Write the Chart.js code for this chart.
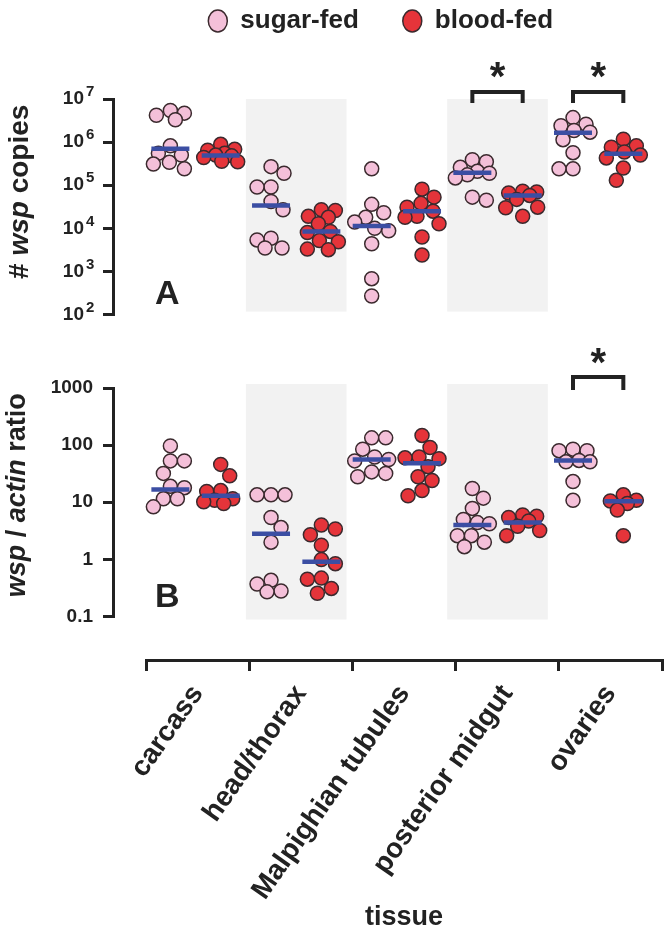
<!DOCTYPE html>
<html><head><meta charset="utf-8">
<script src="https://cdn.jsdelivr.net/npm/chart.js@4/dist/chart.umd.min.js"></script>
<style>
html,body{margin:0;padding:0;background:#fff;width:672px;height:942px;overflow:hidden;position:relative}
canvas{position:absolute;left:0}
</style></head><body>
<canvas id="ca" width="672" height="345" style="top:0px"></canvas>
<canvas id="cb" width="672" height="300" style="top:340px"></canvas>
<canvas id="cx" width="672" height="312" style="top:630px"></canvas>
<script>
// ---------------- data ----------------
const categories = ['carcass', 'head/thorax', 'Malpighian tubules', 'posterior midgut', 'ovaries'];
const seriesNames = ['sugar-fed', 'blood-fed'];

// panel A: # wsp copies
const copiesSugar = [
  [5.4e6, 4.7e6, 4.2e6, 3.3e6, 8.2e5, 5.5e5, 5.0e5, 3.4e5, 3.1e5, 2.4e5],
  [2.7e5, 1.9e5, 9.1e4, 9.1e4, 4.2e4, 2.7e4, 5.9e3, 5.4e3, 3.5e3, 3.5e3],
  [2.4e5, 3.6e4, 2.3e4, 1.8e4, 1.4e4, 1.0e4, 8.8e3, 4.4e3, 6.8e2, 2.7e2],
  [3.9e5, 3.5e5, 2.6e5, 2.1e5, 1.9e5, 1.74e5, 1.48e5, 5.3e4, 4.5e4],
  [3.7e6, 2.6e6, 2.4e6, 1.86e6, 1.7e6, 1.14e6, 5.7e5, 2.4e5, 2.4e5]
];
const copiesBlood = [
  [8.9e5, 6.8e5, 6.5e5, 5.5e5, 5.0e5, 4.8e5, 4.4e5, 3.6e5, 3.5e5],
  [2.7e4, 2.6e4, 1.9e4, 1.8e4, 1.28e4, 8.5e3, 8.0e3, 5.2e3, 4.9e3, 3.3e3, 3.2e3],
  [8.1e4, 5.3e4, 3.8e4, 3.1e4, 2.5e4, 1.9e4, 1.8e4, 1.28e4, 6.3e3, 2.4e3],
  [7.3e4, 7.0e4, 6.6e4, 5.8e4, 4.7e4, 3.1e4, 3.0e4, 1.9e4],
  [1.17e6, 8.2e5, 7.6e5, 5.9e5, 5.0e5, 4.3e5, 2.5e5, 1.3e5]
];
const copiesMedianSugar = [7.0e5, 3.4e4, 1.14e4, 1.96e5, 1.66e6];
const copiesMedianBlood = [4.9e5, 8.5e3, 2.5e4, 5.8e4, 5.4e5];
const copiesTicks = [1e2, 1e3, 1e4, 1e5, 1e6, 1e7];
const copiesTickBase = ['10', '10', '10', '10', '10', '10'];
const copiesTickExp = ['2', '3', '4', '5', '6', '7'];
const copiesSignificant = [false, false, false, true, true];

// panel B: wsp / actin ratio
const ratioSugar = [
  [97, 53, 53, 32, 19, 18, 11.5, 11.5, 8.3],
  [13.5, 13.5, 13.5, 5.4, 3.6, 2.0, 0.43, 0.37, 0.28, 0.27],
  [134, 134, 85, 62, 56, 53, 34, 32, 28],
  [17.4, 11.8, 7.8, 5.0, 4.4, 4.2, 2.6, 2.6, 2.0, 1.67],
  [85, 80, 80, 54, 51, 51, 23, 10.8]
];
const ratioBlood = [
  [46, 29, 16, 15.4, 11.5, 10.8, 10.2, 9.5],
  [4.0, 3.4, 2.7, 1.77, 0.99, 0.84, 0.47, 0.45, 0.31, 0.255],
  [148, 91, 62, 60, 58, 42, 28, 24, 16, 13],
  [6.0, 5.7, 5.4, 4.7, 3.8, 3.2, 2.6],
  [13.5, 10.8, 10.5, 9.5, 7.3, 2.6]
];
const ratioMedianSugar = [16.7, 2.8, 56, 4.0, 54];
const ratioMedianBlood = [13, 0.91, 48, 4.4, 10.4];
const ratioTicks = [0.1, 1, 10, 100, 1000];
const ratioTickBase = ['0.1', '1', '10', '100', '1000'];
const ratioTickExp = ['', '', '', '', ''];
const ratioSignificant = [false, false, false, false, true];

const shadedGroups = [false, true, false, true, false];
const copiesTitle = [['# ', false], ['wsp', true], [' copies', false]];
const ratioTitle = [['wsp', true], [' / ', false], ['actin', true], [' ratio', false]];
const xTitle = 'tissue';

// ---------------- styles ----------------
const FONT = "'Liberation Sans', Arial, Helvetica, sans-serif";
const INK = '#222222';
const PINK = '#f4c0d9';
const RED = '#e5343a';
const EDGE = '#3b2a2e';
const BLUE = '#3b4ea3';
const BAND = '#f2f2f2';
const X_MIN = -0.82, X_MAX = 4.5, SIDE = 0.25;

function groupPoints(groups, side) {
  const out = [];
  groups.forEach((vals, gi) => vals.forEach(v => out.push({ x: gi + side, y: v, g: gi })));
  return out;
}
function medianPoints(vals, side) { return vals.map((v, i) => ({ x: i + side, y: v })); }

const decor = {
  id: 'decor',
  beforeDatasetsDraw(chart, args, o) {
    const { ctx, chartArea: a, scales: { x } } = chart;
    ctx.save();
    ctx.fillStyle = BAND;
    shadedGroups.forEach((s, i) => {
      if (!s) return;
      const l = x.getPixelForValue(i - 0.5), r = x.getPixelForValue(i + 0.5);
      ctx.fillRect(l, a.top + o.bandTop, r - l, (a.bottom + o.bandBottom) - (a.top + o.bandTop));
    });
    ctx.restore();
  },
  afterDraw(chart, args, o) {
    const { ctx, chartArea: a, scales: { x, y } } = chart;
    ctx.save();
    ctx.strokeStyle = INK; ctx.fillStyle = INK;
    // tick exponents
    ctx.font = 'bold 15px ' + FONT;
    ctx.textAlign = 'left'; ctx.textBaseline = 'middle';
    o.ticks.forEach((t, i) => {
      if (!o.exps[i]) return;
      ctx.fillText(o.exps[i], a.left - 10 - o.tickPad + 2, y.getPixelForValue(t) - 7);
    });
    // significance brackets
    ctx.lineWidth = 4; ctx.lineJoin = 'miter'; ctx.lineCap = 'butt';
    o.significant.forEach((s, i) => {
      if (!s) return;
      const x1 = x.getPixelForValue(i - SIDE), x2 = x.getPixelForValue(i + SIDE);
      ctx.beginPath();
      ctx.moveTo(x1, a.top + o.legBottom);
      ctx.lineTo(x1, a.top + o.bracketTop);
      ctx.lineTo(x2, a.top + o.bracketTop);
      ctx.lineTo(x2, a.top + o.legBottom);
      ctx.stroke();
      ctx.font = 'bold 40px ' + FONT;
      ctx.textAlign = 'center'; ctx.textBaseline = 'alphabetic';
      ctx.fillText('*', (x1 + x2) / 2, a.top + o.starBase);
    });
    // panel letter
    ctx.font = 'bold 34px ' + FONT;
    ctx.textAlign = 'left'; ctx.textBaseline = 'alphabetic';
    ctx.fillText(o.letter, a.left + 42, a.bottom + o.letterDY);
    // rich y title
    ctx.translate(o.titleX, (a.top + a.bottom) / 2 + o.titleDY);
    ctx.rotate(-Math.PI / 2);
    const f = it => (it ? 'italic ' : '') + 'bold ' + o.titleSize + 'px ' + FONT;
    let total = 0;
    o.title.forEach(p => { ctx.font = f(p[1]); total += ctx.measureText(p[0]).width; });
    let x0 = -total / 2;
    ctx.textAlign = 'left'; ctx.textBaseline = 'middle';
    o.title.forEach(p => { ctx.font = f(p[1]); ctx.fillText(p[0], x0, 0); x0 += ctx.measureText(p[0]).width; });
    ctx.restore();
  }
};

function panel(id, cfg) {
  const pad = { top: cfg.padTop, bottom: 10, left: 20, right: 10 };
  const spacer = { display: !!cfg.legend, text: '', weight: 500, font: { size: 10 }, padding: { top: 0, bottom: 43 } };
  cfg.decor.ticks = cfg.ticks; cfg.decor.exps = cfg.tickExp; cfg.decor.tickPad = cfg.tickPad;
  const config = {
    type: 'scatter',
    data: { datasets: [
      { label: 'median ' + seriesNames[0], isMedian: true, data: medianPoints(cfg.medS, -SIDE), pointStyle: 'line', pointRadius: 19, pointBorderWidth: 4.5, borderColor: BLUE, backgroundColor: BLUE, order: -1 },
      { label: 'median ' + seriesNames[1], isMedian: true, data: medianPoints(cfg.medB, SIDE), pointStyle: 'line', pointRadius: 19, pointBorderWidth: 4.5, borderColor: BLUE, backgroundColor: BLUE, order: -1 },
      { label: seriesNames[0], data: groupPoints(cfg.sugar, -SIDE), pointStyle: 'circle', pointRadius: 7, borderWidth: 1.5, borderColor: EDGE, backgroundColor: PINK, order: 0 },
      { label: seriesNames[1], data: groupPoints(cfg.blood, SIDE), pointStyle: 'circle', pointRadius: 7, borderWidth: 1.5, borderColor: EDGE, backgroundColor: RED, order: 0 }
    ] },
    options: {
      responsive: false, animation: false, events: [],
      layout: { padding: pad },
      plugins: {
        tooltip: { enabled: false },
        legend: cfg.legend ? {
          display: true, position: 'top', fullSize: false, align: 'center',
          labels: {
            usePointStyle: true, pointStyleWidth: 19, boxHeight: 15.6, padding: 44,
            font: { family: FONT, size: 26, weight: 'bold' }, color: INK,
            filter: (item, data) => !data.datasets[item.datasetIndex].isMedian
          }
        } : { display: false },
        title: spacer,
        decor: cfg.decor
      },
      scales: {
        x: { type: 'linear', min: X_MIN, max: X_MAX, display: false },
        y: {
          type: 'logarithmic', position: 'left',
          min: cfg.ticks[0], max: cfg.ticks[cfg.ticks.length - 1],
          afterBuildTicks: s => { s.ticks = cfg.ticks.map(v => ({ value: v })); },
          ticks: {
            autoSkip: false, padding: cfg.tickPad, color: INK,
            font: { family: FONT, size: 19, weight: 'bold' },
            callback: v => { const k = cfg.ticks.indexOf(v); return k >= 0 ? cfg.tickBase[k] : ''; }
          },
          grid: { drawOnChartArea: false, drawTicks: true, tickLength: 10, lineWidth: 3, color: INK },
          border: { display: true, width: 3, color: INK }
        }
      }
    },
    plugins: [decor]
  };
  const chart = new Chart(document.getElementById(id), config);
  // fit chart area to target layout
  for (let k = 0; k < 4; k++) {
    const a = chart.chartArea;
    pad.left += cfg.area.left - a.left;
    pad.right += a.right - cfg.area.right;
    pad.bottom += a.bottom - cfg.area.bottom;
    if (cfg.legend) spacer.padding.bottom += cfg.area.top - a.top; else pad.top += cfg.area.top - a.top;
    chart.update('none');
  }
  // compact beeswarm placement of points around each group column
  const xs = chart.scales.x, ys = chart.scales.y, D = 14, R = 17;
  [[2, -SIDE], [3, SIDE]].forEach(([di, side]) => {
    const data = chart.data.datasets[di].data;
    const groups = {};
    data.forEach(p => (groups[p.g] = groups[p.g] || []).push(p));
    Object.keys(groups).forEach(g => {
      const cx = xs.getPixelForValue(+g + side);
      const list = groups[g].map(p => ({ p, py: ys.getPixelForValue(p.y) })).sort((a, b) => a.py - b.py);
      const placed = [];
      let flip = 1;
      list.forEach(it => {
        let best = 0, bestScore = -1;
        for (let c = 0; c <= R; c++) {
          const opts = c === 0 ? [0] : [c * flip, -c * flip];
          for (const s of opts) {
            let md = D;
            placed.forEach(q => { md = Math.min(md, Math.hypot(q.dx - s, q.py - it.py)); });
            if (md > bestScore + 1e-6) { bestScore = md; best = s; }
          }
        }
        if (best !== 0) flip = -flip;
        it.dx = best; placed.push(it);
        it.p.x = xs.getValueForPixel(cx + best);
      });
    });
  });
  chart.update('none');
  return chart;
}

panel('ca', {
  legend: true, padTop: -36, tickPad: 19,
  sugar: copiesSugar, blood: copiesBlood, medS: copiesMedianSugar, medB: copiesMedianBlood,
  ticks: copiesTicks, tickBase: copiesTickBase, tickExp: copiesTickExp,
  area: { left: 113, right: 662, top: 99, bottom: 334 },
  decor: { significant: copiesSignificant, bandTop: 0, bandBottom: -3, bracketTop: -7, legBottom: 4, starBase: -9,
           letter: 'A', letterDY: -11, title: copiesTitle, titleSize: 28, titleX: 20, titleDY: -15 }
});

panel('cb', {
  legend: false, padTop: 40, tickPad: 10,
  sugar: ratioSugar, blood: ratioBlood, medS: ratioMedianSugar, medB: ratioMedianBlood,
  ticks: ratioTicks, tickBase: ratioTickBase, tickExp: ratioTickExp,
  area: { left: 113, right: 662, top: 48, bottom: 286 },
  decor: { significant: ratioSignificant, bandTop: -4, bandBottom: 3, bracketTop: -11, legBottom: 2, starBase: -12,
           letter: 'B', letterDY: -10, title: ratioTitle, titleSize: 27, titleX: 18, titleDY: -7 }
});

// bottom category axis
new Chart(document.getElementById('cx'), {
  type: 'bar',
  data: { labels: categories, datasets: [] },
  options: {
    responsive: false, animation: false, events: [],
    layout: { padding: { left: 146, right: 10, top: 0, bottom: 0 } },
    plugins: { legend: { display: false }, tooltip: { enabled: false } },
    scales: {
      x: {
        type: 'category', offset: true,
        grid: { offset: true, drawOnChartArea: false, drawTicks: true, tickLength: 11, lineWidth: 3, color: INK },
        border: { display: true, width: 3, color: INK },
        ticks: { minRotation: 55, maxRotation: 55, autoSkip: false, padding: 8, color: INK,
                 font: { family: FONT, size: 28, weight: 'bold' } },
        title: { display: true, text: xTitle, color: INK, font: { family: FONT, size: 27, weight: 'bold' },
                 padding: { top: 0, bottom: 8 } },
        afterFit: s => { s.height = 282; }
      },
      y: { display: false }
    }
  }
});
</script>
</body></html>
